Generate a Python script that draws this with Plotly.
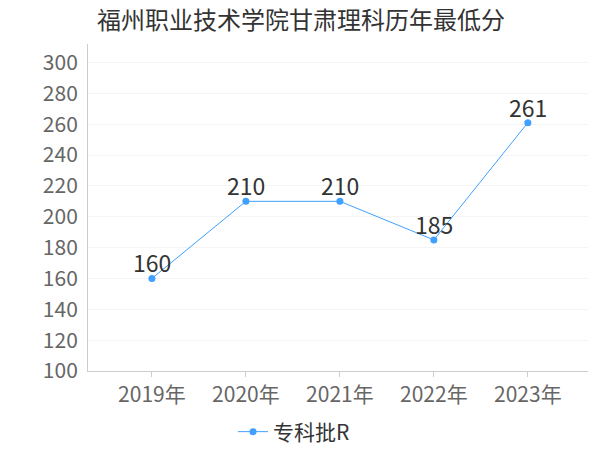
import plotly.graph_objects as go

years = ["2019年", "2020年", "2021年", "2022年", "2023年"]
scores = [160, 210, 210, 185, 261]
series_name = "专科批R"
title = "福州职业技术学院甘肃理科历年最低分"
y_ticks = [100, 120, 140, 160, 180, 200, 220, 240, 260, 280, 300]

cjk = "Noto Sans CJK SC"

xs = list(range(len(years)))

fig = go.Figure()
fig.add_trace(go.Scatter(
    x=xs, y=scores, mode="lines+markers",
    name=series_name,
    line=dict(color="#3fa0ff", width=1),
    marker=dict(color="#3fa0ff", size=7),
    cliponaxis=False,
))

for xi, v in zip(xs, scores):
    fig.add_annotation(x=xi, y=v, text=str(v), showarrow=False,
                       xanchor="center", yanchor="bottom", yshift=-3,
                       font=dict(size=23, color="#333333", family=cjk))

fig.update_layout(
    width=600, height=450,
    paper_bgcolor="white", plot_bgcolor="white",
    margin=dict(l=88, r=12, t=44, b=79, autoexpand=False),
    title=dict(text=title, x=97 / 600, xanchor="left", y=0.955, yanchor="middle",
               font=dict(size=24, color="#333333", family=cjk)),
    font=dict(family=cjk),
    showlegend=True,
    legend=dict(orientation="h", xref="container", yref="container",
                x=233 / 600, xanchor="left", y=1 - 432 / 450, yanchor="middle",
                itemwidth=30,
                font=dict(size=21, color="#333333", family=cjk)),
    xaxis=dict(
        tickmode="array", tickvals=xs, ticktext=years,
        range=[-0.68, 4.64], automargin=False,
        showgrid=False, zeroline=False,
        showline=True, linecolor="#cccccc", linewidth=1,
        ticks="outside", ticklen=5, tickcolor="#cccccc",
        tickfont=dict(size=21, color="#666666", family=cjk),
    ),
    yaxis=dict(
        range=[100, 312], tickvals=y_ticks, automargin=False,
        showgrid=True, gridcolor="#f4f4f4", zeroline=False,
        showline=True, linecolor="#cccccc", linewidth=1,
        tickfont=dict(size=21, color="#666666", family=cjk),
        ticklabelstandoff=5,
    ),
)

fig.write_html("out.html", config={"displayModeBar": False},
               post_script="document.body.style.margin='0';document.body.style.overflow='hidden';")
